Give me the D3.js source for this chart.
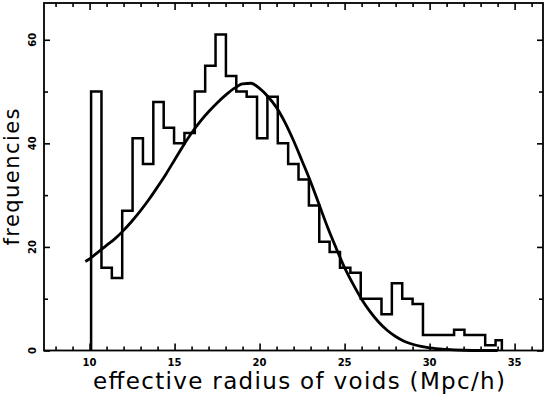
<!DOCTYPE html>
<html>
<head>
<meta charset="utf-8">
<script src="https://cdn.jsdelivr.net/npm/d3@7"></script>
<style>
  body { margin: 0; background: #fff; }
  svg { display: block; }
</style>
</head>
<body>
<div class="chart"></div>
<script>
// histogram of void radii
const binStart = 10.09
const binWidth = 0.61
const rMax = 34.25
const counts = [50, 16, 14, 27, 41, 36, 48, 43, 40, 42,
                50, 55, 61, 53, 50, 49, 41, 49, 40, 36,
                33, 28, 21, 19, 16, 15, 10, 10, 7, 13,
                10, 9, 3, 3, 3, 4, 3, 3, 1, 2]

// fitted curve
const curveX = [9.75, 10, 10.5, 11, 11.5, 12, 12.5, 13, 13.5, 14, 14.5, 15, 15.5, 16, 16.5, 17, 17.5, 18, 18.5, 19,
                19.5, 20, 20.5, 21, 21.5, 22, 22.5, 23, 23.5, 24, 24.5, 25, 25.5, 26, 26.5, 27, 27.5, 28, 28.5, 29,
                29.5, 30, 31, 32, 33, 34]
const curveY = [17.2, 17.7, 19.0, 20.3, 21.6, 23.2, 25.0, 27.0, 29.2, 31.6, 34.1, 36.8, 39.5, 42.0, 44.2, 46.1, 47.8, 49.3, 50.6, 51.5,
                51.6, 50.6, 49.0, 46.9, 44.0, 40.5, 36.6, 32.6, 28.2, 23.8, 19.8, 16.0, 12.8, 9.9, 7.5, 5.5, 3.9, 2.7, 1.8, 1.2,
                0.8, 0.5, 0.2, 0.05, 0, 0]

const xMajor = [10, 15, 20, 25, 30, 35]
const xMinor = [8, 9, 11, 12, 13, 14, 16, 17, 18, 19, 21, 22, 23, 24, 26, 27, 28, 29, 31, 32, 33, 34, 36]
const yMajor = [0, 20, 40, 60]
const yMinor = [10, 30, 50]

const width = 545
const height = 396
const pLeft = 44, pRight = 543, pTop = 3, pBottom = 350.5

const xScale = d3.scaleLinear().domain([7.32, 36.67]).range([pLeft, pRight])
const yScale = d3.scaleLinear().domain([0, 67.1]).range([pBottom, pTop])

const svg = d3.select('.chart')
  .append('svg')
  .attr('width', width)
  .attr('height', height)

function tickAxis(axis, vals, size, tx, ty) {
  const g = svg.append('g')
    .attr('transform', 'translate(' + tx + ',' + ty + ')')
    .call(axis.tickValues(vals).tickSize(size).tickSizeOuter(0).tickFormat(''))
  g.select('.domain').remove()
  g.selectAll('line').attr('stroke', '#000').attr('stroke-width', 1.6)
}

tickAxis(d3.axisBottom(xScale), xMajor, -7, 0, pBottom)
tickAxis(d3.axisBottom(xScale), xMinor, -4, 0, pBottom)
tickAxis(d3.axisTop(xScale), xMajor, -7, 0, pTop)
tickAxis(d3.axisTop(xScale), xMinor, -4, 0, pTop)
tickAxis(d3.axisLeft(yScale), yMajor, -6, pLeft, 0)
tickAxis(d3.axisLeft(yScale), yMinor, -4, pLeft, 0)
tickAxis(d3.axisRight(yScale), yMajor, -6, pRight, 0)
tickAxis(d3.axisRight(yScale), yMinor, -4, pRight, 0)

// frame
svg.append('rect')
  .attr('x', pLeft).attr('y', pTop)
  .attr('width', pRight - pLeft).attr('height', pBottom - pTop)
  .attr('fill', 'none').attr('stroke', '#000').attr('stroke-width', 1.8)

// tick labels
svg.selectAll('.xlab')
  .data(xMajor)
  .enter()
  .append('text')
  .attr('x', d => xScale(d))
  .attr('y', 366)
  .attr('text-anchor', 'middle')
  .style('font', 'bold 10px "DejaVu Sans"')
  .text(d => d)

svg.selectAll('.ylab')
  .data(yMajor)
  .enter()
  .append('text')
  .attr('transform', d => 'translate(36,' + yScale(d) + ') rotate(-90)')
  .attr('text-anchor', 'middle')
  .style('font', 'bold 10px "DejaVu Sans"')
  .text(d => d)

// histogram outline
const pts = [[binStart, 0]]
counts.forEach((c, i) => {
  const x0 = binStart + i * binWidth
  const x1 = Math.min(binStart + (i + 1) * binWidth, rMax)
  pts.push([x0, c])
  pts.push([x1, c])
})
pts.push([rMax, 0])

const line = d3.line()
  .x(d => xScale(d[0]))
  .y(d => yScale(d[1]))

svg.append('path')
  .datum(pts)
  .attr('d', line)
  .attr('fill', 'none')
  .attr('stroke', '#000')
  .attr('stroke-width', 2.5)
  .attr('stroke-linejoin', 'miter')

// fitted curve
svg.append('path')
  .datum(curveX.map((x, i) => [x, curveY[i]]))
  .attr('d', line.curve(d3.curveMonotoneX))
  .attr('fill', 'none')
  .attr('stroke', '#000')
  .attr('stroke-width', 2.8)

// axis titles
svg.append('text')
  .attr('x', 299)
  .attr('y', 389)
  .attr('text-anchor', 'middle')
  .attr('textLength', 412)
  .style('font', '23px "DejaVu Sans"')
  .text('effective radius of voids (Mpc/h)')

svg.append('text')
  .attr('transform', 'translate(18.5,177) rotate(-90)')
  .attr('text-anchor', 'middle')
  .attr('textLength', 137)
  .style('font', '21px "DejaVu Sans"')
  .text('frequencies')
</script>
</body>
</html>
